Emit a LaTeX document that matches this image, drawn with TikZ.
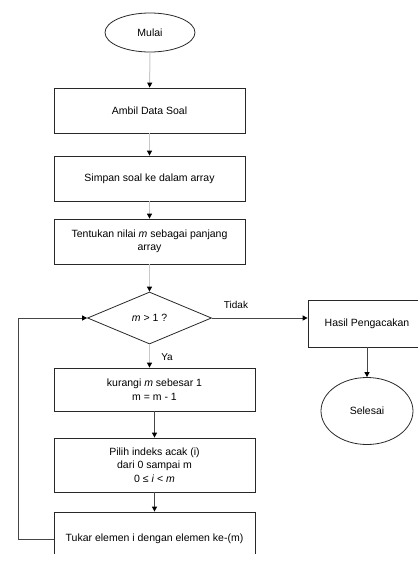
\documentclass[tikz,border=0pt]{standalone}
\usepackage{fontspec}
\setmainfont{Liberation Sans}
\usetikzlibrary{arrows.meta,shapes.geometric}
\definecolor{flowLine}{RGB}{40,40,40}
\definecolor{flowLight}{RGB}{200,200,200}
\definecolor{flowDark}{RGB}{70,70,70}

\begin{document}
\begin{tikzpicture}[
  x=1pt, y=-1pt,
  font=\fontsize{10.5}{13.5}\selectfont,
  flowbox/.style={draw=flowLine, line width=0.8pt, rectangle, align=center, inner sep=0pt, minimum width=191pt, minimum height=45pt},
  widebox/.style={flowbox, minimum width=201pt},
  terminal/.style={draw=flowLine, line width=0.8pt, ellipse, align=center, inner sep=0pt},
  decision/.style={draw=flowLine, line width=0.8pt, diamond, align=center, inner sep=0pt, minimum width=124pt, minimum height=52pt},
  arrowlight/.style={-{Triangle[length=5pt,width=5pt,color=black]}, line width=1pt, draw=flowLight},
  arrowdark/.style={-{Triangle[length=5pt,width=5pt,color=black]}, line width=1pt, draw=flowDark},
  lbl/.style={font=\fontsize{10}{12}\selectfont, inner sep=0pt}
]
\useasboundingbox (0,0) rectangle (418,563);

\begin{scope}
\clip (0,0) rectangle (418,553);

% main column
\node[terminal, minimum width=90pt, minimum height=39pt] (mulai) at (150,32.5) {Mulai};
\node[flowbox] (ambil) at (149.5,110.5) {Ambil Data Soal};
\node[flowbox] (simpan) at (149.5,178.5) {Simpan soal ke dalam array};
\node[flowbox] (tentukan) at (149.5,241.5) {Tentukan nilai \textit{m} sebagai panjang\\array};
\node[decision] (cek) at (149.5,318) {\textit{m} > 1 ?};

% loop body
\node[widebox, minimum height=43pt] (kurangi) at (154.5,389.5) {kurangi \textit{m} sebesar 1\\m = m - 1};
\node[widebox, minimum height=54pt] (pilih) at (154.5,465) {Pilih indeks acak (i)\\dari 0 sampai m\\0 ≤ \textit{i} < \textit{m}};
\node[widebox, minimum height=54pt] (tukar) at (154.5,539) {Tukar elemen i dengan elemen ke-(m)};

% exit branch
\node[flowbox, minimum width=118pt, minimum height=47pt] (hasil) at (367,323.5) {Hasil Pengacakan};
\node[terminal, minimum width=92pt, minimum height=67pt] (selesai) at (367,411) {Selesai};

\coordinate (back) at (18,539);

\draw[arrowlight] (mulai) -- (ambil);
\draw[arrowlight] (ambil) -- (simpan);
\draw[arrowlight] (simpan) -- (tentukan);
\draw[arrowlight] (tentukan) -- (cek);
\draw[arrowlight] (cek.south) -- (cek.south |- kurangi.north);
\draw[arrowdark] (cek.east) -- (cek.east -| hasil.west);
\draw[arrowdark] (hasil) -- (selesai);
\draw[arrowdark] (kurangi) -- (pilih);
\draw[arrowdark] (pilih) -- (tukar);
\draw[arrowdark] (tukar.west) -- (back) |- (cek.west);

\node[lbl] (tidak) at (236,305) {Tidak};
\node[lbl] (ya) at (167,357) {Ya};
\end{scope}
\end{tikzpicture}
\end{document}
